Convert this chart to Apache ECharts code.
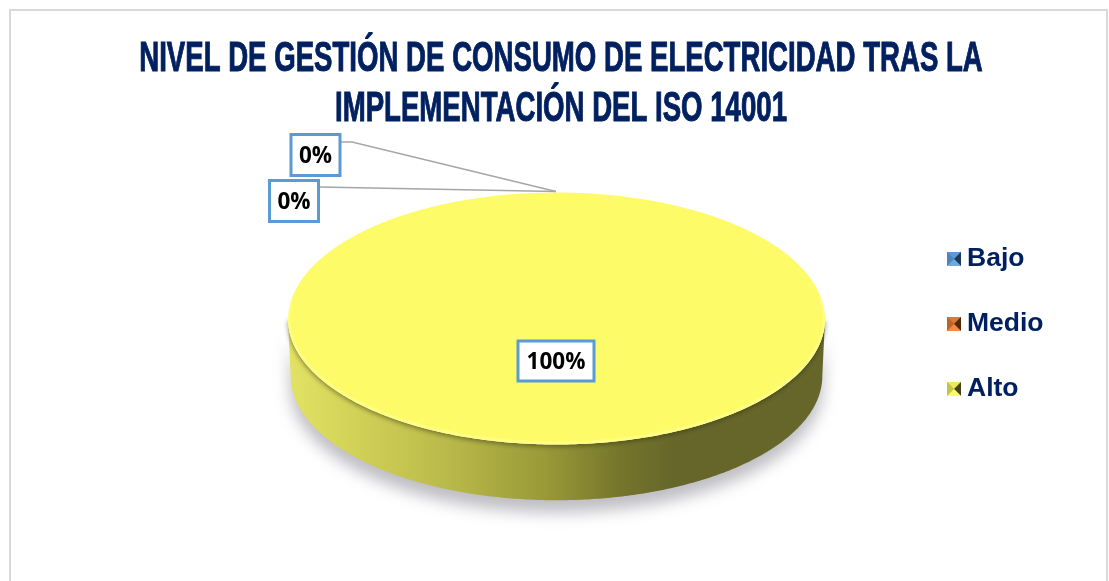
<!DOCTYPE html>
<html>
<head>
<meta charset="utf-8">
<style>html,body{margin:0;padding:0;background:#fff}#c{width:1109px;height:581px}</style>
<script src="https://cdn.jsdelivr.net/npm/echarts@6/dist/echarts.min.js"></script>
</head>
<body>
<div id="c"></div>
<script>
const titleLines = ['NIVEL DE GESTIÓN DE CONSUMO DE ELECTRICIDAD TRAS LA', 'IMPLEMENTACIÓN DEL ISO 14001'];
const categories = ['Bajo', 'Medio', 'Alto'];
const values = [0, 0, 100];
const percentLabels = ['0%', '0%', '100%'];

const topColors = ['#5B9BD5', '#ED7D31', '#FDFC68'];
const iconShades = [
  ['#5b9bd5', '#4a86bb', '#1c3a55', '#6fa8dc'],
  ['#d97a35', '#b8652a', '#4e2a10', '#f08a45'],
  ['#eaea5c', '#c4c44c', '#45451c', '#fdfc68']
];
function icon(s) {
  const svg = `<svg xmlns="http://www.w3.org/2000/svg" width="14" height="14"><rect width="14" height="14" fill="${s[1]}"/>` +
    `<path d="M0 0H14L7 7Z" fill="${s[0]}"/><path d="M0 0V14L7 7Z" fill="${s[1]}"/>` +
    `<path d="M14 0V14L7 7Z" fill="${s[2]}"/><path d="M0 14H14L7 7Z" fill="${s[3]}"/></svg>`;
  return 'image://data:image/svg+xml;charset=utf-8,' + encodeURIComponent(svg);
}

const geo = { cx: 556.5, cy: 319, rx: 268.5, ry: 125.5, depth: 57 };
const labelBoxes = [
  { x: 315.5, y: 155, w: 49, h: 41, line: [[340, 142], [352, 142], [556, 191.5]] },
  { x: 294, y: 201, w: 49, h: 41, line: [[319, 187], [556, 191.5]] },
  { x: 556, y: 361, w: 76, h: 40, line: null }
];
const total = values.reduce((a, b) => a + b, 0);
const startShare = i => values.slice(0, i).reduce((a, b) => a + b, 0) / total;

const pt = (a, dy = 0, k = 1) => [geo.cx + geo.rx * k * Math.sin(a), geo.cy - geo.ry * k * Math.cos(a) + dy];

function wedge(a0, a1, k, dy = 0) {
  const pts = [];
  const n = Math.max(2, Math.ceil((a1 - a0) * 90));
  for (let i = 0; i <= n; i++) pts.push(pt(a0 + (a1 - a0) * i / n, dy, k));
  if (a1 - a0 < Math.PI * 2 - 1e-6) pts.push([geo.cx, geo.cy]);
  return pts;
}
function side(a0, a1) {
  const lo = Math.max(a0, Math.PI / 2), hi = Math.min(a1, Math.PI * 1.5);
  if (hi <= lo) return null;
  const up = [], down = [];
  const n = Math.ceil((hi - lo) * 90);
  for (let i = 0; i <= n; i++) {
    const a = lo + (hi - lo) * i / n;
    up.push(pt(a));
    down.unshift(pt(a, geo.depth, 0.99));
  }
  return up.concat(down);
}
function frontEdge(a0, a1) {
  const lo = Math.max(a0, Math.PI / 2), hi = Math.min(a1, Math.PI * 1.5);
  if (hi <= lo) return null;
  const pts = [];
  const n = Math.ceil((hi - lo) * 90);
  for (let i = 0; i <= n; i++) pts.push(pt(lo + (hi - lo) * i / n));
  return pts;
}
const sideGradient = {
  type: 'linear', x: 0, y: 0, x2: 1, y2: 0,
  colorStops: [
    { offset: 0, color: '#e2e264' }, { offset: 0.12, color: '#d2d258' },
    { offset: 0.3, color: '#b9b94a' }, { offset: 0.48, color: '#999938' },
    { offset: 0.62, color: '#75752c' }, { offset: 0.72, color: '#66662a' },
    { offset: 1, color: '#66662a' }
  ]
};

function renderSlice(index) {
  return function (params, api) {
    const share = api.value(0) / total;
    const children = [];
    const a0 = startShare(index) * Math.PI * 2;
    const a1 = a0 + share * Math.PI * 2;
    if (share > 0) {
      const sidePts = side(a0, a1);
      if (sidePts) {
        children.push({ type: 'polygon', shape: { points: sidePts }, style: {
          fill: sideGradient, shadowBlur: 16, shadowOffsetY: 12, shadowColor: 'rgba(70,70,85,0.36)' } });
        children.push({ type: 'polygon', shape: { points: frontEdge(a0, a1) }, style: {
          fill: '#fefe84', shadowBlur: 5, shadowOffsetY: 2, shadowColor: 'rgba(50,50,15,0.55)' } });
      }
      children.push({ type: 'polygon', shape: { points: wedge(a0, a1, 1) }, style: { fill: '#fefe84' } });
      children.push({ type: 'polygon', shape: { points: wedge(a0, a1, 0.992, -2) }, style: { fill: topColors[index] } });
    }
    const b = labelBoxes[index];
    if (b.line) {
      children.push({ type: 'polyline', shape: { points: b.line }, style: { stroke: '#a6a6a6', lineWidth: 1.5, fill: null } });
    }
    children.push({ type: 'rect', shape: { x: b.x - b.w / 2, y: b.y - b.h / 2, width: b.w, height: b.h },
      style: { fill: '#fff', stroke: '#5b9bd5', lineWidth: 3 } });
    children.push({ type: 'text', x: b.x, y: b.y + 2, style: { text: percentLabels[index], align: 'center', verticalAlign: 'middle',
      fill: '#000', font: 'bold 22.5px "Open Sans"' } });
    return { type: 'group', children };
  };
}

const series = categories.map((name, i) => ({
  type: 'custom', name, coordinateSystem: 'none', silent: true, animation: false,
  itemStyle: { color: topColors[i] }, z: i === 2 ? 1 : 2,
  data: [[values[i]]], renderItem: renderSlice(i)
}));

const chart = echarts.init(document.getElementById('c'), null, { renderer: 'canvas' });
chart.setOption({
  animation: false,
  backgroundColor: '#fff',
  graphic: [
    { type: 'rect', z: -10, shape: { x: 10, y: 10, width: 1097, height: 600 }, style: { fill: '#fff', stroke: '#d9d9d9', lineWidth: 2 } },
    ...titleLines.map((t, i) => ({
      type: 'text', x: 561, y: 59 + i * 50, scaleX: 0.642, originX: 0, originY: 0, z: 5,
      style: { text: t, align: 'center', verticalAlign: 'middle', fill: '#002060', stroke: '#002060', lineWidth: 1, font: 'bold 43px "Liberation Sans"' }
    }))
  ],
  legend: {
    orient: 'vertical', left: 942, top: 239, itemWidth: 14, itemHeight: 14, itemGap: 35, selectedMode: false,
    textStyle: { color: '#002060', fontFamily: 'Liberation Sans', fontWeight: 'bold', fontSize: 26.5, lineHeight: 30, padding: [0, 0, 0, 1] },
    data: categories.map((name, i) => ({ name, icon: icon(iconShades[i]) }))
  },
  series
});
</script>
</body>
</html>
